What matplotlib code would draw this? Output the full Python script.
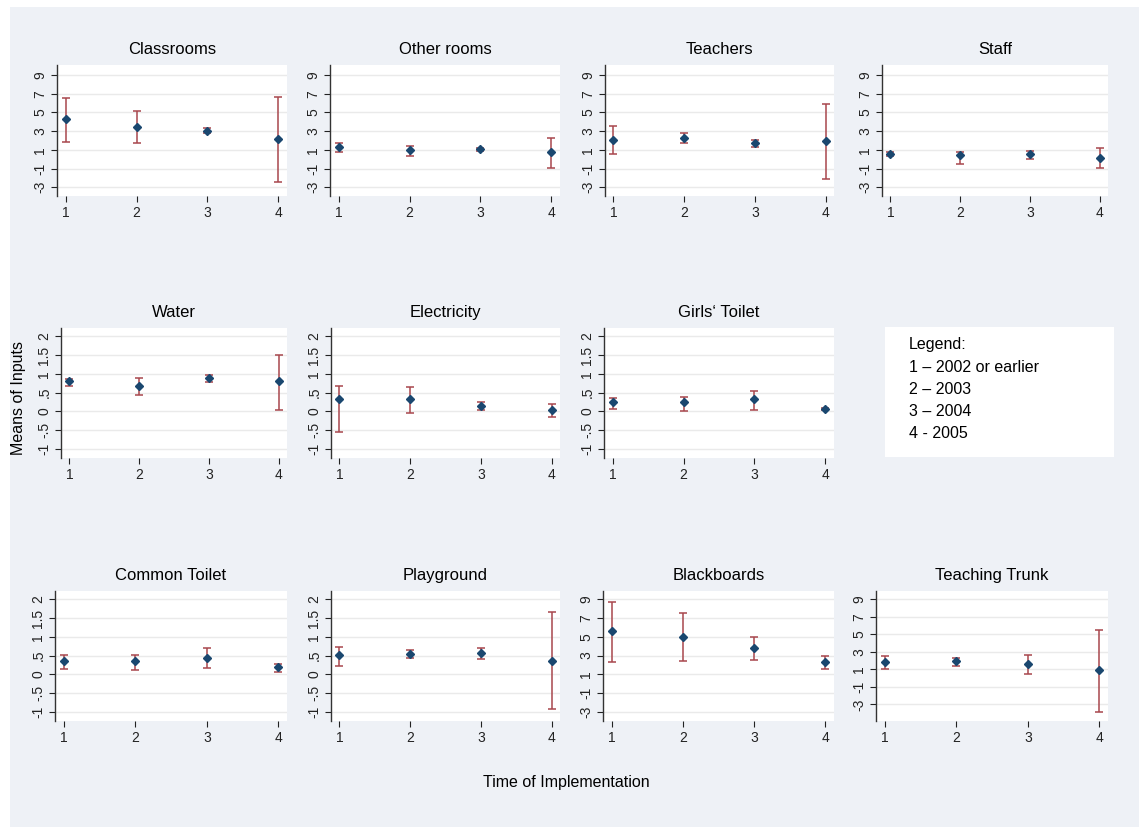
import matplotlib.pyplot as plt
from matplotlib.patches import Rectangle

# ------------------------------
# Data (mean, upper CI, lower CI for periods 1..4)
# ------------------------------
periods = [1, 2, 3, 4]

titles = ["Classrooms", "Other rooms", "Teachers", "Staff",
          "Water", "Electricity", "Girls\u2018 Toilet",
          "Common Toilet", "Playground", "Blackboards", "Teaching Trunk"]

classrooms_mean = [4.34, 3.46, 3.03, 2.14]
classrooms_hi = [6.52, 5.16, 3.31, 6.62]
classrooms_lo = [1.89, 1.71, 2.78, -2.45]

other_rooms_mean = [1.28, 0.96, 1.11, 0.75]
other_rooms_hi = [1.71, 1.46, 1.21, 2.25]
other_rooms_lo = [0.72, 0.32, 0.93, -0.89]

teachers_mean = [2.07, 2.28, 1.75, 2.00]
teachers_hi = [3.60, 2.78, 2.10, 5.95]
teachers_lo = [0.54, 1.71, 1.32, -2.13]

staff_mean = [0.57, 0.50, 0.61, 0.18]
staff_hi = [0.75, 0.82, 0.93, 1.21]
staff_lo = [0.36, -0.46, 0.00, -0.96]

water_mean = [0.80, 0.67, 0.90, 0.80]
water_hi = [0.86, 0.88, 0.98, 1.49]
water_lo = [0.68, 0.43, 0.78, 0.04]

electricity_mean = [0.33, 0.33, 0.15, 0.03]
electricity_hi = [0.67, 0.66, 0.24, 0.20]
electricity_lo = [-0.55, -0.05, 0.03, -0.14]

girls_toilet_mean = [0.24, 0.24, 0.34, 0.06]
girls_toilet_hi = [0.36, 0.39, 0.54, 0.08]
girls_toilet_lo = [0.07, 0.02, 0.04, 0.04]

common_toilet_mean = [0.35, 0.35, 0.44, 0.19]
common_toilet_hi = [0.52, 0.52, 0.70, 0.27]
common_toilet_lo = [0.14, 0.11, 0.16, 0.06]

playground_mean = [0.51, 0.54, 0.57, 0.37]
playground_hi = [0.74, 0.64, 0.70, 1.65]
playground_lo = [0.23, 0.43, 0.40, -0.92]

blackboards_mean = [5.60, 5.00, 3.83, 2.27]
blackboards_hi = [8.72, 7.55, 5.00, 2.91]
blackboards_lo = [2.31, 2.42, 2.52, 1.53]

trunk_mean = [1.80, 1.91, 1.61, 0.96]
trunk_hi = [2.48, 2.25, 2.60, 5.52]
trunk_lo = [1.00, 1.42, 0.47, -3.87]

big_ticks = [-3, -1, 1, 3, 5, 7, 9]
big_labels = ["-3", "-1", "1", "3", "5", "7", "9"]
small_ticks = [-1, -0.5, 0, 0.5, 1, 1.5, 2]
small_labels = ["-1", "-.5", "0", ".5", "1", "1.5", "2"]

legend_lines = ["Legend:", "1 \u2013 2002 or earlier", "2 \u2013 2003",
                "3 \u2013 2004", "4 - 2005"]

# ------------------------------
# Layout (pixel boxes: left, right, top, bottom)
# ------------------------------
W, H = 1139, 827
BG = "#eef1f6"
NAVY = "#1a476f"
MAROON = "#a8474d"

panels = [
    (classrooms_mean, classrooms_hi, classrooms_lo, (57, 287, 65, 196), "big", (-3.93, 10.07)),
    (other_rooms_mean, other_rooms_hi, other_rooms_lo, (330, 560, 65, 196), "big", (-3.93, 10.07)),
    (teachers_mean, teachers_hi, teachers_lo, (605, 834, 65, 196), "big", (-3.93, 10.07)),
    (staff_mean, staff_hi, staff_lo, (882, 1108, 65, 196), "big", (-3.93, 10.07)),
    (water_mean, water_hi, water_lo, (61, 287, 328, 458), "small", (-1.24, 2.22)),
    (electricity_mean, electricity_hi, electricity_lo, (331, 560, 328, 458), "small", (-1.24, 2.22)),
    (girls_toilet_mean, girls_toilet_hi, girls_toilet_lo, (604, 834, 328, 458), "small", (-1.24, 2.22)),
    (common_toilet_mean, common_toilet_hi, common_toilet_lo, (55, 287, 591, 721), "small", (-1.24, 2.22)),
    (playground_mean, playground_hi, playground_lo, (331, 560, 591, 721), "small", (-1.24, 2.22)),
    (blackboards_mean, blackboards_hi, blackboards_lo, (603, 834, 591, 721), "big", (-3.96, 9.88)),
    (trunk_mean, trunk_hi, trunk_lo, (876, 1108, 591, 721), "big", (-4.9, 9.95)),
]

plt.rcParams['font.family'] = ['Liberation Sans Narrow', 'Liberation Sans', 'DejaVu Sans']

fig = plt.figure(figsize=(W / 100, H / 100), dpi=100)
fig.patch.set_facecolor("white")
fig.add_artist(Rectangle((10 / W, 0), 1 - 10 / W, 1 - 7 / H, transform=fig.transFigure,
                         facecolor=BG, edgecolor="none", zorder=0))


def box(l, r, t, b):
    return [l / W, 1 - b / H, (r - l) / W, (b - t) / H]


for title, (mean, hi, lo, px, scale, ylim) in zip(titles, panels):
    ax = fig.add_axes(box(*px))
    ax.set_facecolor("white")
    ax.set_zorder(2)
    yerr = [[m - l for m, l in zip(mean, lo)], [h - m for m, h in zip(mean, hi)]]
    ax.errorbar(periods, mean, yerr=yerr, fmt="none", ecolor=MAROON,
                elinewidth=1.1, capsize=3.2, capthick=1.1, zorder=3)
    ax.plot(periods, mean, linestyle="none", marker="D", markersize=3.6,
            color=NAVY, zorder=4)
    ax.set_xlim(0.88, 4.12)
    ax.set_ylim(*ylim)
    ax.set_xticks(periods)
    ax.set_xticklabels([str(p) for p in periods])
    if scale == "big":
        ax.set_yticks(big_ticks)
        ax.set_yticklabels(big_labels, rotation=90, va="center")
    else:
        ax.set_yticks(small_ticks)
        ax.set_yticklabels(small_labels, rotation=90, va="center")
    ax.grid(axis="y", color="#eaeaea", linewidth=1.0)
    ax.set_axisbelow(True)
    for side in ["top", "right", "bottom"]:
        ax.spines[side].set_visible(False)
    ax.spines["left"].set_color("#333333")
    ax.spines["left"].set_linewidth(1.0)
    ax.tick_params(axis="both", labelsize=10, colors="#222222", length=4, width=0.8, pad=3)
    ax.set_title(title, fontsize=12, pad=8)

# legend box
lx = fig.add_axes(box(885, 1114, 327, 457))
lx.set_facecolor("white")
lx.set_xticks([])
lx.set_yticks([])
for s in lx.spines.values():
    s.set_visible(False)
for i, line in enumerate(legend_lines):
    lx.text(24 / 229, 1 - (18 + 22 * i) / 130, line, transform=lx.transAxes,
            fontsize=11.5, va="center", ha="left")

fig.text(19 / W, 1 - 398 / H, "Means of Inputs", rotation=90, fontsize=11.5,
         ha="center", va="center")
fig.text(566 / W, 1 - 783 / H, "Time of Implementation", fontsize=11.5,
         ha="center", va="center")

fig.savefig("out.png", dpi=100, facecolor="white")
